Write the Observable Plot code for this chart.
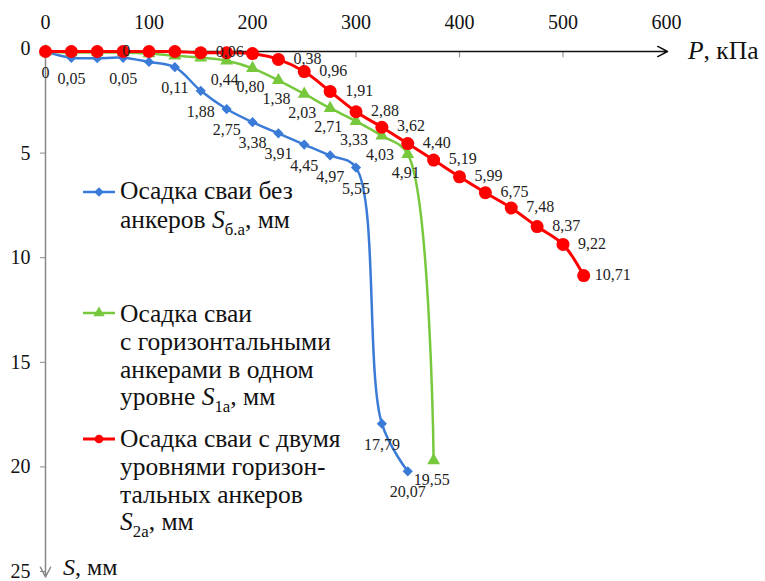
<!DOCTYPE html>
<html><head><meta charset="utf-8">
<script src="https://cdn.jsdelivr.net/npm/d3@7"></script>
<script src="https://cdn.jsdelivr.net/npm/@observablehq/plot@0.6"></script>
<style>
html,body{margin:0;padding:0;background:#fff;}
</style>
</head><body>
<div id="chart"></div>
<script>
// ---- data ----
const X_TICKS = [0, 100, 200, 300, 400, 500, 600];
const Y_TICKS = [0, 5, 10, 15, 20, 25];

const P_BLUE = [0, 25, 50, 75, 100, 125, 150, 175, 200, 225, 250, 275, 300, 325, 350];
const S_BLUE = [0, 0.3, 0.32, 0.3, 0.5, 0.75, 1.88, 2.75, 3.38, 3.91, 4.45, 4.97, 5.55, 17.79, 20.07];
const L_BLUE = ["0", "0,05", "", "0,05", "", "0,11", "1,88", "2,75", "3,38", "3,91", "4,45", "4,97", "5,55", "17,79", "20,07"];

const P_GREEN = [0, 25, 50, 75, 100, 125, 150, 175, 200, 225, 250, 275, 300, 325, 350, 375];
const S_GREEN = [0, 0.05, 0.05, 0.05, 0.1, 0.2, 0.3, 0.44, 0.8, 1.38, 2.03, 2.71, 3.33, 4.03, 4.91, 19.55];
const L_GREEN = ["", "", "", "", "", "", "", "0,44", "0,80", "1,38", "2,03", "2,71", "3,33", "4,03", "4,91", "19,55"];

const P_RED = [0, 25, 50, 75, 100, 125, 150, 175, 200, 225, 250, 275, 300, 325, 350, 375, 400, 425, 450, 475, 500, 520];
const S_RED = [0, 0, 0, 0, 0, 0, 0.06, 0.06, 0.1, 0.38, 0.96, 1.91, 2.88, 3.62, 4.40, 5.19, 5.99, 6.75, 7.48, 8.37, 9.22, 10.71];
const L_RED = ["", "", "0", "", "", "", "0,06", "", "", "0,38", "0,96", "1,91", "2,88", "3,62", "4,40", "5,19", "5,99", "6,75", "7,48", "8,37", "9,22", "10,71"];

const LEGEND = [
  {key: "blue", lines: [
    [{t: "Осадка сваи без"}],
    [{t: "анкеров "}, {t: "S", i: true}, {t: "б.а", sub: true}, {t: ", мм"}]
  ]},
  {key: "green", lines: [
    [{t: "Осадка сваи"}],
    [{t: "с горизонтальными"}],
    [{t: "анкерами в одном"}],
    [{t: "уровне "}, {t: "S", i: true}, {t: "1а", sub: true}, {t: ", мм"}]
  ]},
  {key: "red", lines: [
    [{t: "Осадка сваи с двумя"}],
    [{t: "уровнями горизон-"}],
    [{t: "тальных анкеров"}],
    [{t: "S", i: true}, {t: "2а", sub: true}, {t: ", мм"}]
  ]}
];
const X_TITLE = [{t: "P", i: true}, {t: ", кПа"}];
const Y_TITLE = [{t: "S", i: true}, {t: ", мм"}];

// ---- styles / layout ----
const COLORS = {blue: "#3b7bd8", green: "#78c83e", red: "#ff0000"};
const FONT = "'Liberation Serif', 'Times New Roman', serif";
const LEGEND_POS = {blue: {sy: 192, y0: 199, lh: 29}, green: {sy: 313, y0: 322, lh: 27.8}, red: {sy: 439, y0: 447, lh: 27.8}};
const LEGEND_FS = 25.5;

const rows = (P, S, L) => P.map((p, i) => ({p, s: S[i], label: L[i]}));
const blue = rows(P_BLUE, S_BLUE, L_BLUE);
const green = rows(P_GREEN, S_GREEN, L_GREEN);
const red = rows(P_RED, S_RED, L_RED);

const chart = Plot.plot({
  width: 765, height: 581,
  marginLeft: 45, marginRight: 99, marginTop: 51, marginBottom: 7,
  style: {fontFamily: FONT, fontSize: "20px", color: "#111", background: "#fff", overflow: "visible"},
  x: {domain: [0, 600]},
  y: {domain: [0, 25], reverse: true},
  marks: [
    Plot.axisX({anchor: "top", ticks: X_TICKS, tickSize: 0, tickPadding: 23, label: null, tickFormat: d => String(d)}),
    Plot.axisY({anchor: "left", ticks: Y_TICKS, tickSize: 5, tickPadding: 10, label: null, stroke: "#888", tickFormat: d => String(d), dy: -3}),
    Plot.ruleX(X_TICKS.slice(1, -1), {x: d => d, y1: () => 0, y2: () => 0.3, stroke: "#999", strokeWidth: 1.2}),
    Plot.arrow([0], {x1: () => 0, y1: () => 0, x2: () => 0, y2: () => 25.12, stroke: "#888", strokeWidth: 1.5, headLength: 11, headAngle: 55}),
    Plot.arrow([0], {x1: () => 0, y1: () => 0, x2: () => 601, y2: () => 0, stroke: "#111", strokeWidth: 1.5, headLength: 11, headAngle: 55}),

    Plot.line(blue, {x: "p", y: "s", stroke: COLORS.blue, strokeWidth: 2.5, curve: "catmull-rom"}),
    Plot.dot(blue, {x: "p", y: "s", symbol: "diamond2", r: 4.6, fill: COLORS.blue, stroke: "none"}),
    Plot.line(green, {x: "p", y: "s", stroke: COLORS.green, strokeWidth: 2.5, curve: "catmull-rom"}),
    Plot.dot(green, {x: "p", y: "s", symbol: "triangle", r: 4.8, fill: COLORS.green, stroke: "none"}),
    Plot.line(red, {x: "p", y: "s", stroke: COLORS.red, strokeWidth: 3, curve: "catmull-rom"}),
    Plot.dot(red, {x: "p", y: "s", r: 6.5, fill: COLORS.red, stroke: "none"}),

    Plot.text(blue.filter(d => d.label), {x: "p", y: "s", text: "label", dy: 21, fontSize: 16, fill: "#222"}),
    Plot.text(green.filter(d => d.label), {x: "p", y: "s", text: "label", dy: 19, dx: -2, fontSize: 16, fill: "#222"}),
    Plot.text(red.filter(d => d.label), {x: "p", y: "s", text: "label", dx: 29, dy: -1, fontSize: 16, fill: "#222"})
  ]
});

document.getElementById("chart").appendChild(chart);

// ---- rich text helpers (legend + axis titles) ----
const svg = d3.select(chart);
function richText(g, segs, x, y, size) {
  const t = g.append("text").attr("x", x).attr("y", y).attr("text-anchor", "start")
    .attr("font-family", FONT).attr("font-size", size).attr("fill", "#111");
  let sub = false;
  segs.forEach(s => {
    const ts = t.append("tspan").text(s.t);
    if (s.i) ts.attr("font-style", "italic");
    if (s.sub) { ts.attr("font-size", size * 0.66).attr("dy", size * 0.26); sub = true; }
    else if (sub) { ts.attr("dy", -size * 0.26); sub = false; }
  });
  return t;
}
const lg = svg.append("g").attr("text-anchor", "start");
LEGEND.forEach(item => {
  const pos = LEGEND_POS[item.key];
  const c = COLORS[item.key];
  lg.append("line").attr("x1", 83).attr("x2", 115).attr("y1", pos.sy).attr("y2", pos.sy)
    .attr("stroke", c).attr("stroke-width", item.key === "red" ? 3 : 2.5);
  const sym = item.key === "blue" ? d3.symbolDiamond2 : item.key === "green" ? d3.symbolTriangle : d3.symbolCircle;
  const size = item.key === "blue" ? 60 : item.key === "green" ? 55 : 60;
  lg.append("path").attr("d", d3.symbol(sym, size)()).attr("transform", `translate(99,${pos.sy})`).attr("fill", c);
  item.lines.forEach((line, k) => richText(lg, line, 120, pos.y0 + k * pos.lh, LEGEND_FS));
});
richText(lg, X_TITLE, 688, 59, 25.5);
richText(lg, Y_TITLE, 63, 575, 24);
</script>
</body></html>
